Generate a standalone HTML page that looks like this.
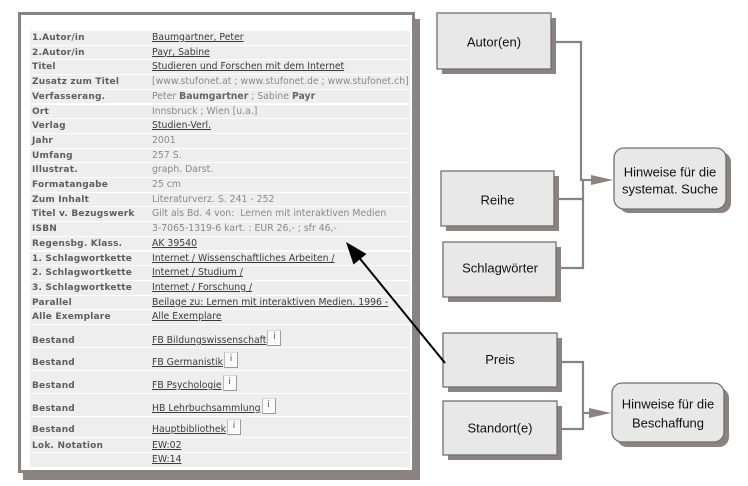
<!DOCTYPE html>
<html><head><meta charset="utf-8"><style>
html,body{margin:0;padding:0;background:#fff;}
body{width:748px;height:486px;position:relative;overflow:hidden;}
.frame{position:absolute;left:18px;top:12px;width:391px;height:455px;border:3px solid #8b8383;background:#fff;box-shadow:5px 7px 0 #8b8383;}
.r{position:absolute;left:30px;width:380px;background:#eeeeee;overflow:hidden;}
.l,.v{position:absolute;white-space:nowrap;font-family:"DejaVu Sans","Liberation Sans",sans-serif;font-size:9px;line-height:12px;}
.l{left:2px;font-weight:bold;color:#5e5e5e;letter-spacing:0.2px;}
.v{left:122px;color:#8a8a8a;font-size:9.3px;}
.v.k{color:#3c3c3c;text-decoration:underline;}
.v b{color:#666;}
.i{display:inline-block;width:12px;height:14px;border:1px solid #9a9a9a;border-top-color:#d8d8d8;border-left-color:#bbb;background:#fafafa;color:#555;font-size:9px;line-height:12px;text-align:center;position:relative;top:-5px;margin-left:1px;text-decoration:none;vertical-align:top;}
svg{position:absolute;left:0;top:0;}
</style></head><body>
<div class="frame"></div>

<div class="r" style="top:31px;height:13.7px"><span class="l" style="top:1px">1.Autor/in</span><span class="v k" style="top:1px">Baumgartner, Peter </span></div>
<div class="r" style="top:45.7px;height:13.7px"><span class="l" style="top:1px">2.Autor/in</span><span class="v k" style="top:1px">Payr, Sabine </span></div>
<div class="r" style="top:60.4px;height:13.7px"><span class="l" style="top:1px">Titel</span><span class="v k" style="top:1px">Studieren und Forschen mit dem Internet </span></div>
<div class="r" style="top:75.1px;height:13.7px"><span class="l" style="top:1px">Zusatz zum Titel</span><span class="v" style="top:1px">[www.stufonet.at ; www.stufonet.de ; www.stufonet.ch]</span></div>
<div class="r" style="top:89.8px;height:13.7px"><span class="l" style="top:1px">Verfasserang.</span><span class="v" style="top:1px">Peter <b>Baumgartner</b> ; Sabine <b>Payr</b></span></div>
<div class="r" style="top:104.5px;height:13.7px"><span class="l" style="top:1px">Ort</span><span class="v" style="top:1px">Innsbruck ; Wien [u.a.]</span></div>
<div class="r" style="top:119.2px;height:13.7px"><span class="l" style="top:1px">Verlag</span><span class="v k" style="top:1px">Studien-Verl. </span></div>
<div class="r" style="top:133.9px;height:13.7px"><span class="l" style="top:1px">Jahr</span><span class="v" style="top:1px">2001</span></div>
<div class="r" style="top:148.6px;height:13.7px"><span class="l" style="top:1px">Umfang</span><span class="v" style="top:1px">257 S.</span></div>
<div class="r" style="top:163.3px;height:13.7px"><span class="l" style="top:1px">Illustrat.</span><span class="v" style="top:1px">graph. Darst.</span></div>
<div class="r" style="top:178px;height:13.7px"><span class="l" style="top:1px">Formatangabe</span><span class="v" style="top:1px">25 cm</span></div>
<div class="r" style="top:192.7px;height:13.7px"><span class="l" style="top:1px">Zum Inhalt</span><span class="v" style="top:1px">Literaturverz. S. 241 - 252</span></div>
<div class="r" style="top:207.4px;height:13.7px"><span class="l" style="top:1px">Titel v. Bezugswerk</span><span class="v" style="top:1px">Gilt als Bd. 4 von:&nbsp; Lernen mit interaktiven Medien</span></div>
<div class="r" style="top:222.1px;height:13.7px"><span class="l" style="top:1px">ISBN</span><span class="v" style="top:1px">3-7065-1319-6 kart. : EUR 26,- ; sfr 46,-</span></div>
<div class="r" style="top:236.8px;height:13.7px"><span class="l" style="top:1px">Regensbg. Klass.</span><span class="v k" style="top:1px">AK 39540 </span></div>
<div class="r" style="top:251.5px;height:13.7px"><span class="l" style="top:1px">1. Schlagwortkette</span><span class="v k" style="top:1px">Internet / Wissenschaftliches Arbeiten / </span></div>
<div class="r" style="top:266.2px;height:13.7px"><span class="l" style="top:1px">2. Schlagwortkette</span><span class="v k" style="top:1px">Internet / Studium / </span></div>
<div class="r" style="top:280.9px;height:13.7px"><span class="l" style="top:1px">3. Schlagwortkette</span><span class="v k" style="top:1px">Internet / Forschung / </span></div>
<div class="r" style="top:295.6px;height:13.7px"><span class="l" style="top:1px">Parallel</span><span class="v k" style="top:1px">Beilage zu: Lernen mit interaktiven Medien. 1996 - </span></div>
<div class="r" style="top:310.3px;height:13.7px"><span class="l" style="top:1px">Alle Exemplare</span><span class="v k" style="top:1px">Alle Exemplare</span></div>

<div class="r" style="top:325px;height:22px"><span class="l" style="top:10px">Bestand</span><span class="v k" style="top:10px">FB Bildungswissenschaft<span class="i">i</span></span></div>
<div class="r" style="top:348px;height:22px"><span class="l" style="top:9px">Bestand</span><span class="v k" style="top:9px">FB Germanistik<span class="i">i</span></span></div>
<div class="r" style="top:371px;height:22px"><span class="l" style="top:9px">Bestand</span><span class="v k" style="top:9px">FB Psychologie<span class="i">i</span></span></div>
<div class="r" style="top:394px;height:22px"><span class="l" style="top:9px">Bestand</span><span class="v k" style="top:9px">HB Lehrbuchsammlung<span class="i">i</span></span></div>
<div class="r" style="top:417px;height:20px"><span class="l" style="top:7px">Bestand</span><span class="v k" style="top:7px">Hauptbibliothek<span class="i">i</span></span></div>
<div class="r" style="top:438px;height:14px"><span class="l" style="top:2px">Lok. Notation</span><span class="v k" style="top:2px">EW:02 </span></div>
<div class="r" style="top:453px;height:14px"><span class="v k" style="top:1px">EW:14 </span></div>

<svg width="748" height="486" viewBox="0 0 748 486" font-family="Liberation Sans, Arial, sans-serif" font-size="13">
  <g fill="#8b8383">
    <rect x="442" y="18" width="114" height="56"/>
    <rect x="446" y="176" width="113" height="55"/>
    <rect x="448" y="247" width="113" height="55"/>
    <rect x="448" y="338" width="114" height="54"/>
    <rect x="448" y="406" width="114" height="54"/>
    <rect x="619" y="152" width="112" height="61" rx="10"/>
    <rect x="617" y="388" width="112" height="59" rx="10"/>
  </g>
  <g fill="#e8e8e8" stroke="#707070" stroke-width="1.3">
    <rect x="437" y="13" width="114" height="56"/>
    <rect x="441" y="171" width="113" height="55"/>
    <rect x="443" y="242" width="113" height="55"/>
    <rect x="443" y="333" width="114" height="54"/>
    <rect x="443" y="401" width="114" height="54"/>
    <rect x="614" y="148" width="112" height="61" rx="10"/>
    <rect x="612" y="383" width="112" height="59" rx="10"/>
  </g>
  <g fill="none" stroke="#8b8383" stroke-width="2.2">
    <polyline points="556,42 581,42 581,180 583,180 583,268 561,268"/>
    <line x1="559" y1="199" x2="583" y2="199"/>
    <line x1="582" y1="180" x2="594" y2="180"/>
    <polyline points="562,362 583,362 583,429 562,429"/>
    <line x1="583" y1="413" x2="591" y2="413"/>
  </g>
  <g fill="#8b8383">
    <polygon points="591,175 613,180 591,185"/>
    <polygon points="589,408 611,413 589,418"/>
  </g>
  <line x1="445" y1="363" x2="357" y2="255" stroke="#000" stroke-width="2"/>
  <polygon points="346,242 353.5,264.5 366.5,254" fill="#000"/>
  <g fill="#111" text-anchor="middle">
    <text x="494" y="46.5">Autor(en)</text>
    <text x="497.5" y="204.5">Reihe</text>
    <text x="500" y="272.5">Schlagwörter</text>
    <text x="500" y="364">Preis</text>
    <text x="500" y="432.5">Standort(e)</text>
    <text x="670" y="176.5">Hinweise für die</text>
    <text x="670" y="193.5">systemat. Suche</text>
    <text x="668" y="408.5">Hinweise für die</text>
    <text x="668" y="427.5">Beschaffung</text>
  </g>
</svg>
</body></html>
